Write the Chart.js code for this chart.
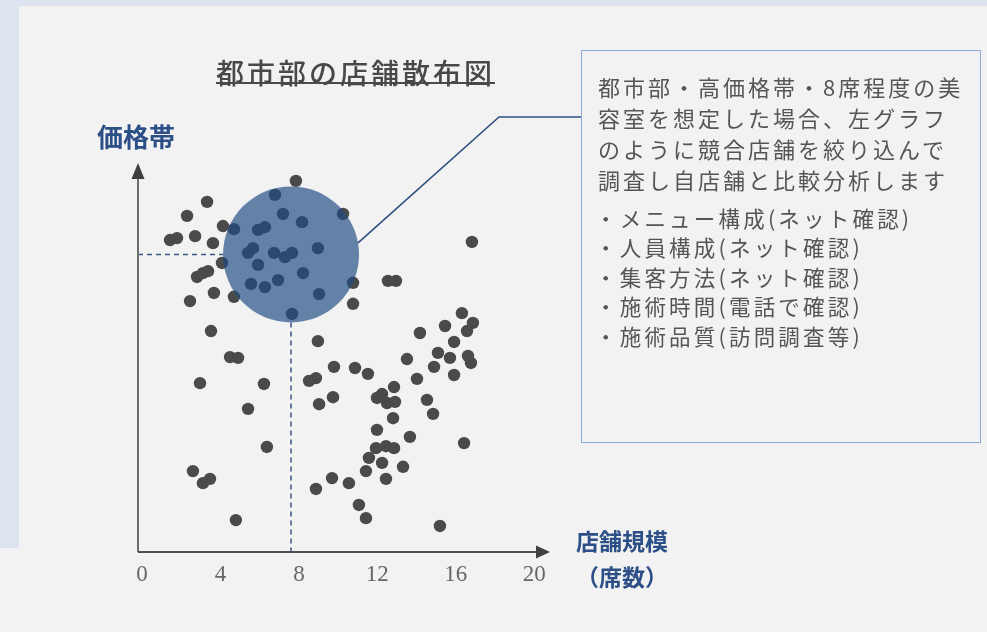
<!DOCTYPE html>
<html lang="ja">
<head>
<meta charset="UTF-8">
<title>都市部の店舗散布図</title>
<script src="https://cdn.jsdelivr.net/npm/chart.js@4.4.1/dist/chart.umd.min.js"></script>
<style>
  html, body { margin: 0; padding: 0; }
  body {
    width: 987px; height: 632px; position: relative; overflow: hidden;
    background: #f2f2f2;
    font-family: "Noto Sans CJK JP", sans-serif;
  }
  .band-top { position: absolute; left: 0; top: 0; width: 987px; height: 6px; background: #dde4ef; }
  .band-left { position: absolute; left: 0; top: 0; width: 19px; height: 548px; background: #dde4ef; }
  #chartWrap { position: absolute; left: 0; top: 0; width: 987px; height: 632px; }
  .title {
    position: absolute; left: 216px; top: 62px;
    font-size: 28px; line-height: 20px; letter-spacing: 3px; font-weight: 500;
    color: #484848; white-space: nowrap;
    border-bottom: 2.5px solid #4a4a4a;
  }
  .axis-label {
    position: absolute; color: #2b4f86; font-weight: 700; white-space: nowrap;
  }
  #note {
    position: absolute; left: 581px; top: 50px; width: 398px; height: 391px;
    border: 1.5px solid #8eaad6;
  }
  .note-text {
    position: absolute; left: 16px; top: 20px;
    font-size: 22px; line-height: 31px; letter-spacing: 3px;
    color: #555; white-space: nowrap;
  }
  .note-list {
    position: absolute; left: 13px; top: 152px;
    font-size: 21.5px; line-height: 29.4px; letter-spacing: 3.2px;
    color: #555; white-space: nowrap;
  }
</style>
</head>
<body>
<div class="band-top"></div>
<div class="band-left"></div>
<div id="chartWrap"><canvas id="scatter" width="987" height="632"></canvas></div>

<div class="title">都市部の店舗散布図</div>
<div class="axis-label" style="left:97px; top:121px; font-size:26px; line-height:30px;">価格帯</div>
<div class="axis-label" style="left:576px; top:526px; font-size:23px; line-height:28px;">店舗規模</div>
<div class="axis-label" style="left:576px; top:562px; font-size:23px; line-height:28px;">（席数）</div>

<div id="note">
  <div class="note-text">都市部・高価格帯・8席程度の美<br>容室を想定した場合、左グラフ<br>のように競合店舗を絞り込んで<br>調査し自店舗と比較分析します</div>
  <div class="note-list">・メニュー構成(ネット確認)<br>・人員構成(ネット確認)<br>・集客方法(ネット確認)<br>・施術時間(電話で確認)<br>・施術品質(訪問調査等)</div>
</div>

<script>
// 目盛り（席数）
const xTicks = [0, 4, 8, 12, 16, 20];

// 競合店舗：席数と価格帯（価格帯は目盛りなしの相対値 0〜100）
const shopSeats = [
  7.85, 6.78, 3.32, 7.19, 8.16, 10.25, 2.30, 4.13, 4.69, 2.71,
  1.43, 1.79, 5.92, 6.27, 3.62, 8.97, 5.66, 5.41, 6.73, 7.29,
  7.65, 4.08, 5.92, 8.21, 2.81, 3.11, 3.37, 6.94, 5.56, 6.27,
  10.76, 3.67, 4.69, 2.45, 9.03, 10.76, 7.65, 3.52, 8.97, 4.49,
  4.90, 12.54, 12.95, 16.82,
  16.31, 15.45, 16.87, 16.57, 14.17, 15.91, 15.09, 15.70, 16.62, 16.77,
  13.51, 14.89, 15.91, 9.79, 10.86, 11.52, 8.52, 8.87, 14.02, 12.85,
  12.24, 11.98, 12.49, 12.90, 9.74, 9.03, 14.53, 14.84, 12.80, 11.98,
  13.66, 16.42, 11.93, 12.44, 12.85, 11.57, 12.24, 13.31, 11.42, 9.69,
  10.55, 12.44, 8.87, 11.06, 11.42, 15.19,
  2.96, 6.22, 5.41, 6.37, 2.60, 3.11, 3.47, 4.79
];
const shopPrice = [
  95.4, 91.8, 90.0, 86.9, 84.8, 86.9, 86.4, 83.8, 83.0, 81.2,
  80.2, 80.7, 82.8, 83.5, 79.4, 78.1, 78.1, 76.9, 76.9, 75.8,
  76.9, 74.3, 73.8, 71.7, 70.7, 71.7, 72.2, 69.9, 68.9, 68.1,
  69.2, 66.6, 65.6, 64.5, 66.3, 63.8, 61.2, 56.8, 54.2, 50.1,
  49.9, 69.7, 69.7, 79.7,
  61.4, 58.1, 58.9, 56.8, 56.3, 54.0, 51.2, 49.9, 50.4, 48.6,
  49.6, 47.6, 45.5, 47.6, 47.3, 45.8, 44.0, 44.7, 44.5, 42.4,
  40.6, 39.6, 38.3, 38.6, 39.8, 38.0, 39.1, 35.5, 34.4, 31.4,
  29.6, 28.0, 26.7, 27.2, 26.7, 24.2, 22.9, 21.9, 20.8, 19.0,
  17.7, 18.8, 16.2, 12.1, 8.7, 6.7,
  43.4, 43.2, 36.8, 27.0, 20.8, 17.7, 18.8, 8.2
];

// 想定店舗（絞り込みの中心）
const targetSeats = [7.6];
const targetPrice = [76.5];

const circleRadius = 68;

// 軸の矢印・点線・引き出し線
const decorations = {
  id: 'decorations',
  beforeDatasetsDraw(chart) {
    const { ctx, chartArea: a, scales: { x, y } } = chart;
    const cx = x.getPixelForValue(targetSeats[0]);
    const cy = y.getPixelForValue(targetPrice[0]);
    ctx.save();

    // 点線（想定位置から軸へ）
    ctx.setLineDash([5, 4]);
    ctx.strokeStyle = '#3b5685';
    ctx.lineWidth = 1.5;
    ctx.beginPath();
    ctx.moveTo(a.left, cy);
    ctx.lineTo(cx - circleRadius, cy);
    ctx.moveTo(cx, cy + circleRadius);
    ctx.lineTo(cx, a.bottom);
    ctx.stroke();

    // 軸
    ctx.setLineDash([]);
    ctx.lineWidth = 2;
    ctx.strokeStyle = '#6e6e6e';
    ctx.beginPath();
    ctx.moveTo(a.left, a.bottom);
    ctx.lineTo(a.left, a.top + 12);
    ctx.stroke();
    ctx.strokeStyle = '#4d4d4d';
    ctx.beginPath();
    ctx.moveTo(a.left, a.bottom);
    ctx.lineTo(a.right - 12, a.bottom);
    ctx.stroke();

    ctx.fillStyle = '#3f3f3f';
    ctx.beginPath();
    ctx.moveTo(a.left, a.top);
    ctx.lineTo(a.left - 6.5, a.top + 16);
    ctx.lineTo(a.left + 6.5, a.top + 16);
    ctx.closePath();
    ctx.fill();
    ctx.beginPath();
    ctx.moveTo(a.right, a.bottom);
    ctx.lineTo(a.right - 14, a.bottom - 6.5);
    ctx.lineTo(a.right - 14, a.bottom + 6.5);
    ctx.closePath();
    ctx.fill();
    ctx.restore();
  },
  afterDatasetsDraw(chart) {
    const { ctx, scales: { x, y } } = chart;
    const cx = x.getPixelForValue(targetSeats[0]);
    const cy = y.getPixelForValue(targetPrice[0]);
    const note = document.getElementById('note');
    const bx = note.offsetLeft;
    const by = note.offsetTop + 67;
    const ang = -0.17;
    ctx.save();
    ctx.strokeStyle = '#2f5082';
    ctx.lineWidth = 1.6;
    ctx.beginPath();
    ctx.moveTo(cx + circleRadius * Math.cos(ang), cy + circleRadius * Math.sin(ang));
    ctx.lineTo(bx - 82, by);
    ctx.lineTo(bx, by);
    ctx.stroke();
    ctx.restore();
  }
};

const ctx = document.getElementById('scatter').getContext('2d');

new Chart(ctx, {
  type: 'scatter',
  data: {
    datasets: [
      {
        label: '想定店舗',
        data: targetSeats.map((v, i) => ({ x: v, y: targetPrice[i] })),
        backgroundColor: 'rgba(30, 75, 131, 0.67)',
        borderWidth: 0,
        pointRadius: circleRadius,
        pointHoverRadius: circleRadius,
        order: 0
      },
      {
        label: '競合店舗',
        data: shopSeats.map((v, i) => ({ x: v, y: shopPrice[i] })),
        backgroundColor: '#4a4a4a',
        borderWidth: 0,
        pointRadius: 6.2,
        pointHoverRadius: 6.2,
        order: 1
      }
    ]
  },
  options: {
    responsive: false,
    animation: false,
    events: [],
    layout: { padding: { left: 138, right: 437, top: 163, bottom: 40 } },
    plugins: {
      legend: { display: false },
      tooltip: { enabled: false },
      title: { display: false }
    },
    scales: {
      x: {
        type: 'linear',
        min: -0.2,
        max: 20.8,
        afterBuildTicks: (scale) => { scale.ticks = xTicks.map(v => ({ value: v })); },
        afterFit: (scale) => { scale.height = 40; },
        grid: { display: false, drawTicks: false },
        border: { display: false },
        ticks: {
          padding: 9,
          color: '#666',
          font: { family: 'Liberation Serif', size: 23 }
        }
      },
      y: {
        type: 'linear',
        min: 0,
        max: 100,
        display: false
      }
    }
  },
  plugins: [decorations]
});
</script>
</body>
</html>
